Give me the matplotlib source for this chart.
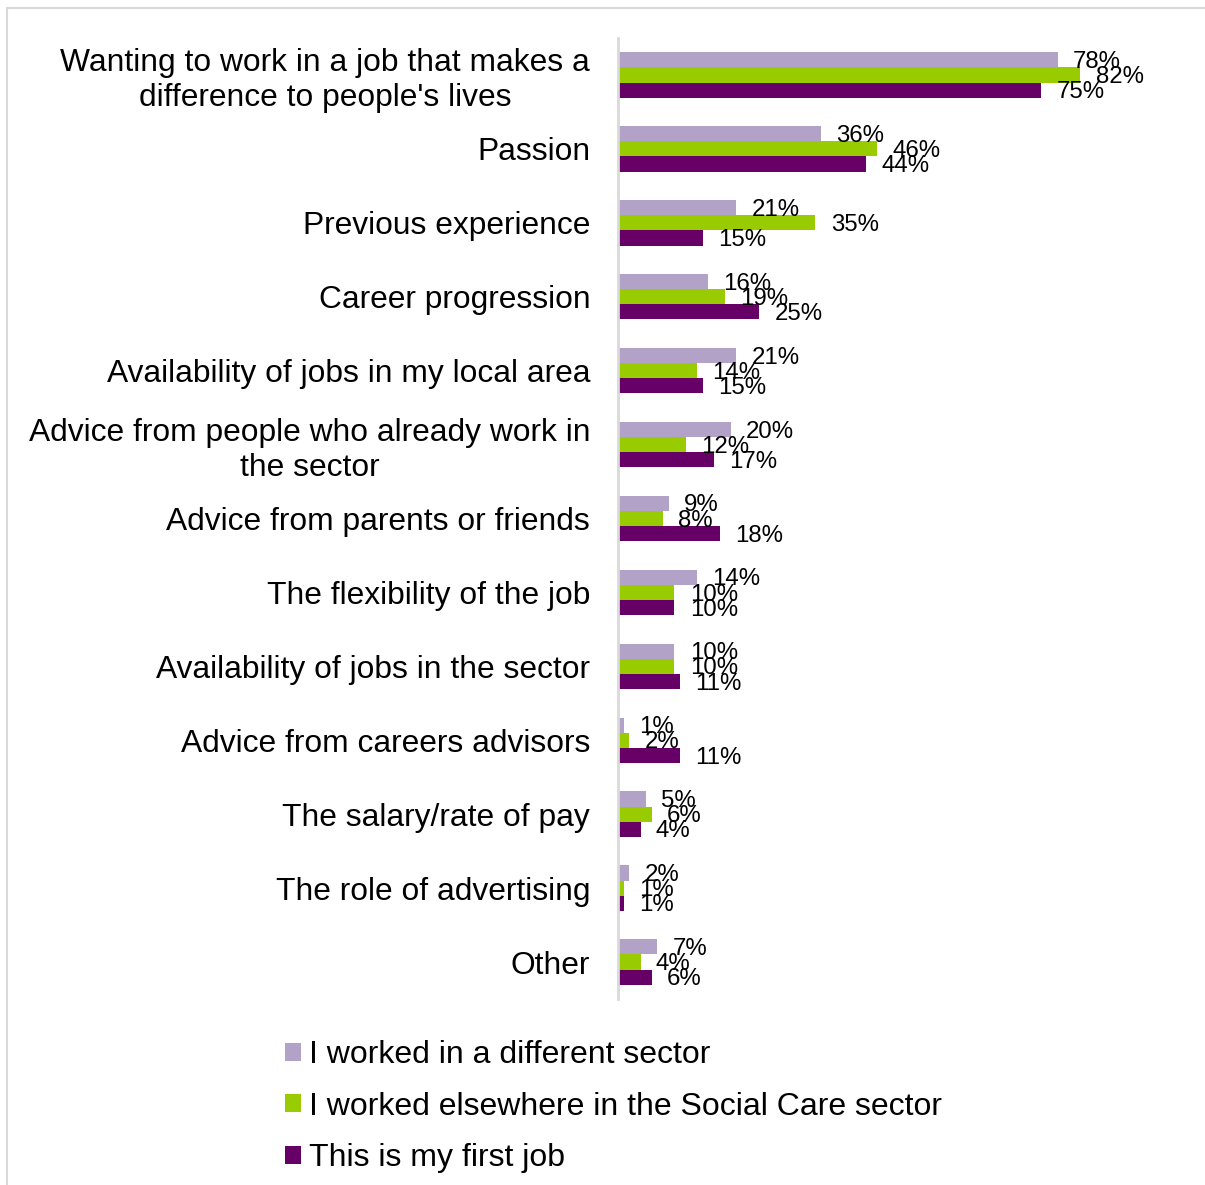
import numpy as np
import matplotlib.pyplot as plt
from matplotlib.patches import Rectangle

plt.rcParams['font.family'] = ['Liberation Sans', 'DejaVu Sans']

# data
categories = [
    "Wanting to work in a job that makes a\ndifference to people's lives",
    "Passion",
    "Previous experience",
    "Career progression",
    "Availability of jobs in my local area",
    "Advice from people who already work in\nthe sector",
    "Advice from parents or friends",
    "The flexibility of the job",
    "Availability of jobs in the sector",
    "Advice from careers advisors",
    "The salary/rate of pay",
    "The role of advertising",
    "Other",
]
diff_sector = [78, 36, 21, 16, 21, 20, 9, 14, 10, 1, 5, 2, 7]
social_care = [82, 46, 35, 19, 14, 12, 8, 10, 10, 2, 6, 1, 4]
first_job = [75, 44, 15, 25, 15, 17, 18, 10, 11, 11, 4, 1, 6]

series_names = ["I worked in a different sector",
                "I worked elsewhere in the Social Care sector",
                "This is my first job"]
colors = ["#B3A2C7", "#99CC00", "#660066"]

fig = plt.figure(figsize=(12.05, 11.85), dpi=100)
ax = fig.add_axes([618 / 1205, 1 - 999 / 1185, 564 / 1205, 961 / 1185])

# light grey frame round the chart
fig.patches.append(Rectangle((7 / 1205, -0.01), 1.0, 1 - 8 / 1185 + 0.01,
                             transform=fig.transFigure, fill=False,
                             edgecolor="#d9d9d9", linewidth=1.5))

y = np.arange(len(categories))
h = 0.205
all_series = [diff_sector, social_care, first_job]
offsets = [-h, 0, h]

for vals, col, name, off in zip(all_series, colors, series_names, offsets):
    bars = ax.barh(y + off, vals, height=h, color=col, label=name)
    for b, v in zip(bars, vals):
        ax.annotate(f"{v}%", (b.get_width(), b.get_y() + b.get_height() / 2),
                    xytext=(11, -1.5), textcoords="offset points",
                    ha="left", va="center", fontsize=17.3, color="black")

ax.set_xlim(0, 100)
ax.set_ylim(len(categories) - 0.5, -0.5)
ax.set_yticks(y)
ax.set_yticklabels(categories, fontsize=22.9, multialignment="center",
                   linespacing=1.2)
ax.tick_params(axis="y", length=0, pad=20)
ax.set_xticks([])
for s in ["top", "right", "bottom"]:
    ax.spines[s].set_visible(False)
ax.spines["left"].set_color("#d9d9d9")
ax.spines["left"].set_linewidth(2)

fig.legend(loc="upper left", bbox_to_anchor=(285 / 1205, 1 - 1040 / 1185),
           frameon=False, fontsize=23, handlelength=0.5, handleheight=0.5,
           handletextpad=0.25, labelspacing=0.68, borderpad=0, borderaxespad=0)

fig.savefig("out.png", dpi=100)
